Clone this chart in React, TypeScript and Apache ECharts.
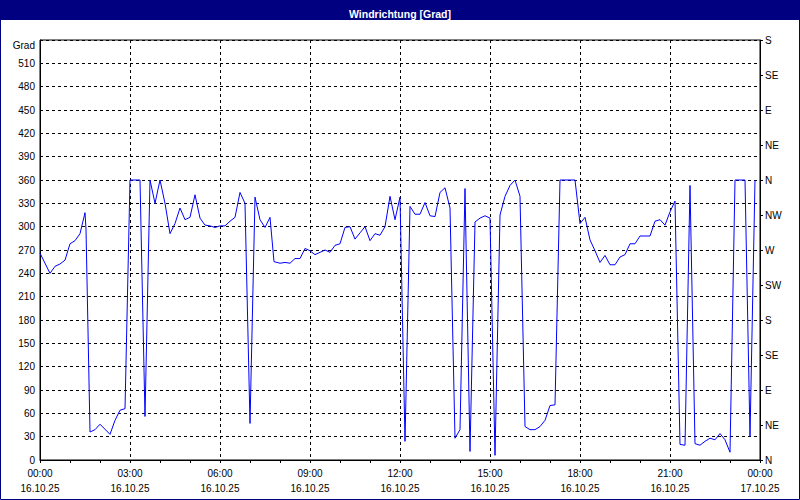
import React, { useEffect, useRef } from "react";
import * as echarts from "echarts";

// time in minutes since 16.10.25 00:00
const minutes = [
  0, 20, 30, 40, 50, 60, 70, 80, 90, 92, 100, 110, 120, 140, 150, 160, 170, 180, 190, 200,
  210, 220, 230, 240, 250, 260, 270, 280, 290, 300, 310, 320, 330, 340, 350, 360, 370, 380, 390, 400,
  410, 420, 430, 440, 450, 460, 468, 480, 490, 500, 510, 520, 530, 540, 550, 560, 570, 580, 590, 600,
  610, 620, 630, 640, 650, 660, 670, 680, 690, 700, 710, 720, 730, 740, 750, 760, 770, 780, 790, 800,
  810, 820, 830, 840, 850, 860, 870, 880, 890, 900, 910, 920, 930, 940, 950, 960, 970, 980, 990, 1000,
  1010, 1020, 1030, 1040, 1050, 1060, 1070, 1080, 1090, 1100, 1110, 1120, 1130, 1140, 1150, 1160, 1170, 1180, 1190, 1200,
  1210, 1220, 1230, 1240, 1250, 1260, 1270, 1280, 1290, 1300, 1310, 1320, 1330, 1340, 1350, 1360, 1370, 1380, 1390, 1400,
  1410, 1420, 1430,
];

// wind direction in degrees
const degrees = [
  266, 240, 249, 252, 257, 278, 282, 291, 318, 297, 36, 39, 46, 33, 51, 64, 66, 360, 360, 360,
  56, 360, 330, 360, 330, 291, 304, 324, 309, 312, 341, 311, 302, 301, 299, 301, 301, 307, 312, 344,
  330, 47, 338, 309, 299, 312, 255, 253, 254, 253, 259, 259, 272, 269, 264, 267, 270, 267, 276, 278,
  299, 300, 284, 292, 300, 282, 291, 289, 300, 339, 309, 338, 24, 326, 316, 316, 331, 314, 313, 344,
  350, 324, 28, 39, 349, 11, 306, 311, 314, 311, 6, 315, 339, 353, 360, 339, 43, 39, 39, 43,
  51, 70, 71, 360, 360, 360, 360, 304, 312, 283, 269, 254, 263, 251, 251, 261, 264, 278, 278, 288,
  288, 288, 307, 309, 302, 319, 333, 20, 19, 353, 21, 19, 24, 28, 26, 34, 26, 10, 360, 360,
  360, 30, 360,
];

const timeLabels = ["00:00", "03:00", "06:00", "09:00", "12:00", "15:00", "18:00", "21:00", "00:00"];
const dateLabels = ["16.10.25", "16.10.25", "16.10.25", "16.10.25", "16.10.25", "16.10.25", "16.10.25", "16.10.25", "17.10.25"];
const compassLabels = ["N", "NE", "E", "SE", "S", "SW", "W", "NW", "N", "NE", "E", "SE", "S"];

const FONT = "Liberation Sans, Arial, sans-serif";

export default function App() {
  const ref = useRef<HTMLDivElement>(null);

  useEffect(() => {
    if (!ref.current) return;
    const chart = echarts.init(ref.current, undefined, { renderer: "svg" });
    const data = minutes.map((m, i) => [m, degrees[i]]);
    const dashed = { color: "#000", width: 1, type: [3, 3] as any };

    chart.setOption({
      animation: false,
      backgroundColor: "#ffffff",
      title: {
        text: "Windrichtung [Grad]",
        left: "center",
        top: 3,
        z: 10,
        textStyle: { color: "#ffffff", fontSize: 10.5, fontWeight: "bold", fontFamily: FONT },
      },
      graphic: [
        { type: "rect", z: 1, shape: { x: 0, y: 0, width: 800, height: 20 }, style: { fill: "#000080" } },
        {
          type: "rect",
          z: 1,
          shape: { x: 0.5, y: 0.5, width: 799, height: 499 },
          style: { fill: "none", stroke: "#000080", lineWidth: 1 },
        },
      ],
      grid: { left: 40, right: 40, top: 40, bottom: 40, show: true, borderColor: "#000", borderWidth: 1 },
      xAxis: {
        type: "value",
        min: 0,
        max: 1440,
        interval: 180,
        axisLine: { show: true, lineStyle: { color: "#000", width: 1 } },
        axisTick: { show: true, length: 3, lineStyle: { color: "#000" } },
        minorTick: { show: true, splitNumber: 3, length: 3, lineStyle: { color: "#000" } },
        minorSplitLine: { show: false },
        splitLine: { show: true, lineStyle: dashed },
        axisLabel: {
          margin: 6,
          color: "#000",
          fontSize: 10,
          fontFamily: FONT,
          lineHeight: 15,
          formatter: (v: number) => {
            const i = Math.round(v / 180);
            return timeLabels[i] + "\n" + dateLabels[i];
          },
        },
      },
      yAxis: [
        {
          type: "value",
          position: "left",
          min: 0,
          max: 540,
          interval: 30,
          axisLine: { show: true, lineStyle: { color: "#000", width: 1 } },
          axisTick: { show: false },
          splitLine: { show: true, lineStyle: dashed },
          axisLabel: {
            margin: 5,
            color: "#000",
            fontSize: 10,
            fontFamily: FONT,
            formatter: (v: number) => (v === 540 ? "{g|Grad}" : String(v)),
            rich: { g: { fontSize: 10, fontFamily: FONT, color: "#000", padding: [10, 0, 0, 0] } },
          },
        },
        {
          type: "value",
          position: "right",
          min: 0,
          max: 540,
          interval: 45,
          axisLine: { show: true, lineStyle: { color: "#000", width: 1 } },
          axisTick: { show: true, length: 3, lineStyle: { color: "#000" } },
          splitLine: { show: false },
          axisLabel: {
            margin: 5,
            color: "#000",
            fontSize: 10,
            fontFamily: FONT,
            formatter: (v: number) => compassLabels[Math.round(v / 45)] ?? "",
          },
        },
      ],
      series: [
        {
          type: "line",
          data,
          yAxisIndex: 0,
          showSymbol: false,
          symbol: "none",
          lineStyle: { color: "#0000ff", width: 1 },
          z: 5,
        },
      ],
    });

    return () => chart.dispose();
  }, []);

  return (
    <div
      ref={ref}
      style={{ position: "fixed", left: 0, top: 0, width: 800, height: 500 }}
    />
  );
}
